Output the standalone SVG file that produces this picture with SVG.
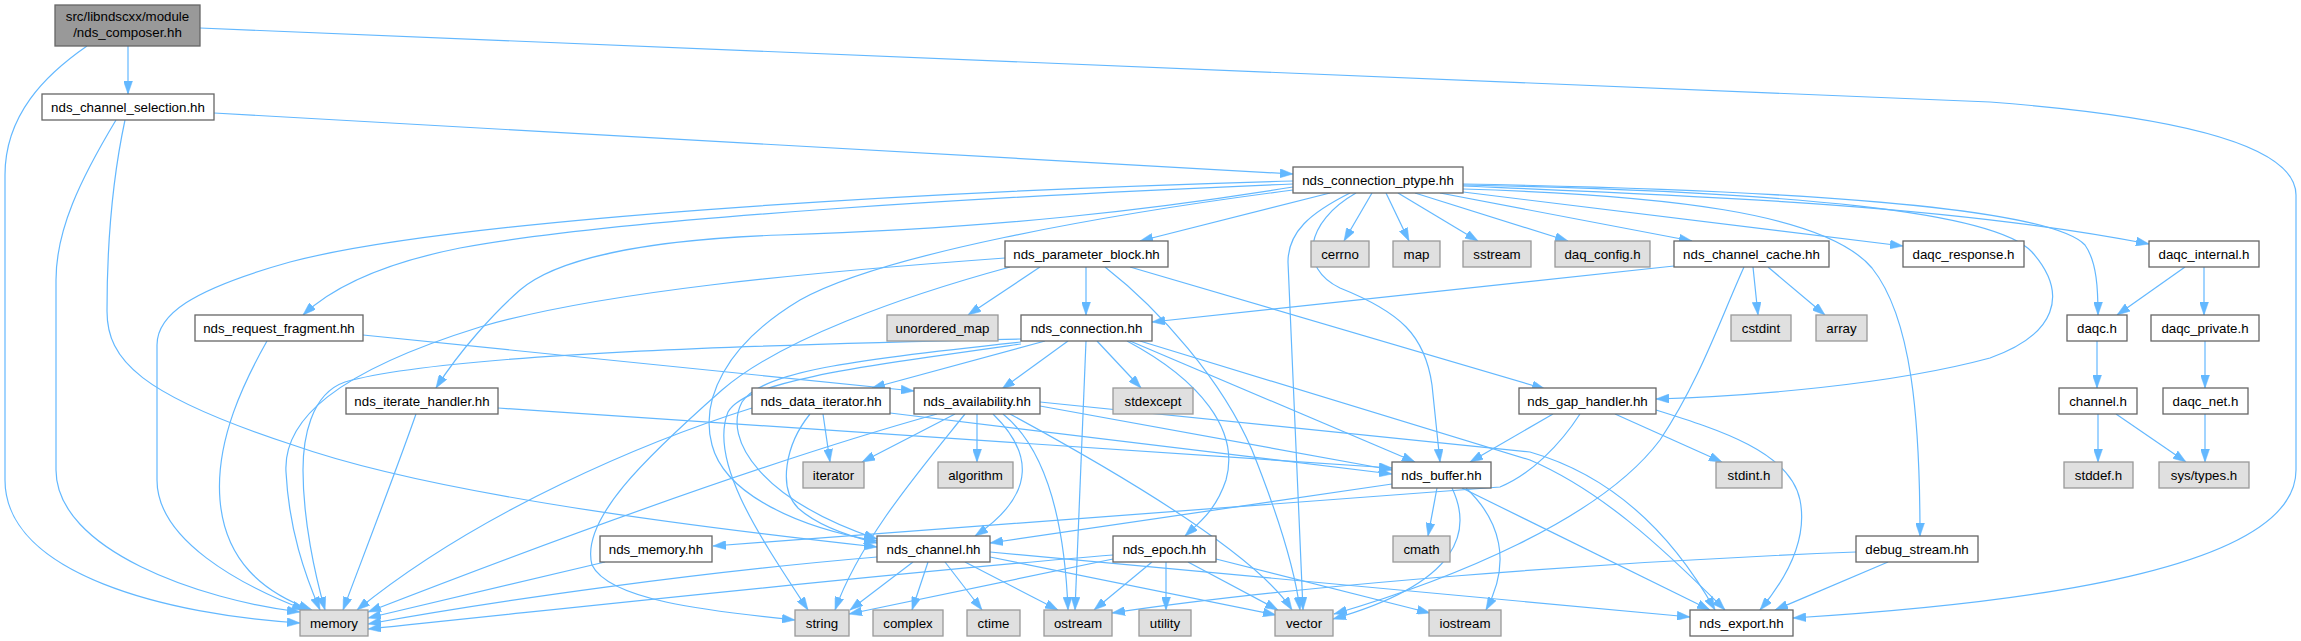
<svg xmlns="http://www.w3.org/2000/svg" width="2301" height="641" viewBox="0 0 2301 641">
<style>
rect{stroke-width:1.3}
.n rect{fill:#ffffff;stroke:#666666}
.x rect{fill:#e0e0e0;stroke:#999999}
.r rect{fill:#999999;stroke:#666666}
text{font-family:"Liberation Sans",Arial,Helvetica,sans-serif;font-size:13.3px;text-anchor:middle;fill:#000000}
#edges path{fill:none;stroke:#63b8ff;stroke-width:1.2;marker-end:url(#a)}
</style>
<defs>
<marker id="a" markerUnits="userSpaceOnUse" markerWidth="13" markerHeight="9" refX="13" refY="4.5" orient="auto">
<path d="M0,0 L13,4.5 L0,9 z" fill="#63b8ff" stroke="#63b8ff" stroke-width="0.5"/>
</marker>
</defs>
<rect x="0" y="0" width="2301" height="641" fill="#ffffff"/>
<g id="edges">
<path d="M128,46 L128,94"/>
<path d="M87,46 C45,75 5,115 5,175 L5,480 C5,575 170,615 300,623"/>
<path d="M200,28 L1990,102 C2200,118 2296,150 2296,195 L2296,470 C2296,565 2050,602 1793,618"/>
<path d="M214,113 L1293,174"/>
<path d="M116,120 C80,180 56,230 56,280 L56,470 C56,550 200,600 300,612"/>
<path d="M125,120 C110,190 107,260 107,311 C107,360 140,395 293,445 C420,490 650,522 877,547"/>
<path d="M1293,181 C900,192 450,220 290,262 C190,290 157,315 157,345 L157,480 C157,540 240,585 305,610"/>
<path d="M1293,184 C1000,196 620,218 460,248 C390,262 335,285 303,315"/>
<path d="M1293,187 C1150,210 1000,228 780,235 C640,240 555,260 520,290 C495,312 460,350 436,388"/>
<path d="M1293,190 C1100,215 880,255 800,300 C725,345 700,400 712,445 C725,495 800,528 877,541"/>
<path d="M1350,193 C1310,213 1288,232 1288,262 L1303,610"/>
<path d="M1356,193 C1305,222 1298,268 1340,288 C1400,312 1425,335 1432,385 L1440,462"/>
<path d="M1330,193 L1140,241"/>
<path d="M1372,193 L1344,241"/>
<path d="M1386,193 L1409,241"/>
<path d="M1398,193 L1478,241"/>
<path d="M1415,193 L1568,241"/>
<path d="M1440,193 L1692,241"/>
<path d="M1463,192 L1903,246"/>
<path d="M1463,186 C1700,196 1950,205 2149,244"/>
<path d="M1463,184 C1800,190 2050,208 2085,245 C2097,262 2098,290 2098,315"/>
<path d="M1463,185 C1800,192 1995,212 2032,252 C2070,295 2055,335 1990,358 C1890,385 1750,396 1656,399"/>
<path d="M1463,189 C1660,195 1825,212 1872,268 C1912,318 1920,420 1920,536"/>
<path d="M1005,258 C800,273 600,292 480,327 C335,372 283,420 286,472 C289,530 305,575 320,610"/>
<path d="M1040,267 L968,315"/>
<path d="M1086,267 L1086,315"/>
<path d="M1105,267 C1160,310 1222,380 1252,450 C1280,520 1295,570 1300,610"/>
<path d="M1130,267 L1545,389"/>
<path d="M1010,267 C900,297 780,340 722,390 C645,458 580,520 592,565 C610,602 720,612 795,620"/>
<path d="M1021,339 C800,344 450,352 345,382 C310,394 303,440 303,470 C303,520 315,575 325,610"/>
<path d="M1045,341 L872,388"/>
<path d="M1068,341 L1002,389"/>
<path d="M1097,341 L1141,388"/>
<path d="M1086,341 L1075,610"/>
<path d="M1127,341 C1200,380 1240,430 1226,480 C1216,510 1200,522 1185,536"/>
<path d="M1130,341 L1415,462"/>
<path d="M1140,341 L1530,460 C1600,490 1660,545 1725,610"/>
<path d="M1021,342 C850,360 762,372 742,402 C722,440 762,500 877,539"/>
<path d="M1021,344 C850,368 745,382 728,412 C708,462 762,540 808,610"/>
<path d="M752,408 C650,440 480,510 357,610"/>
<path d="M823,414 L830,462"/>
<path d="M810,414 C785,445 778,488 798,508 C818,526 848,536 877,543"/>
<path d="M890,413 L1392,474"/>
<path d="M937,414 C800,452 600,522 368,612"/>
<path d="M955,414 L862,462"/>
<path d="M977,414 L977,462"/>
<path d="M965,414 C920,470 860,540 835,610"/>
<path d="M993,414 C1030,450 1040,492 975,536"/>
<path d="M1003,414 C1050,452 1065,532 1068,610"/>
<path d="M1010,414 C1150,490 1260,560 1292,610"/>
<path d="M1040,406 L1392,470"/>
<path d="M1040,402 L1530,452 C1610,475 1670,530 1715,610"/>
<path d="M1553,414 L1470,462"/>
<path d="M1615,414 L1722,462"/>
<path d="M1656,410 C1720,430 1790,452 1800,500 C1808,540 1785,580 1760,610"/>
<path d="M1580,414 C1560,445 1530,475 1500,487 L713,546"/>
<path d="M1392,484 L990,543"/>
<path d="M1437,488 L1428,536"/>
<path d="M1452,488 C1472,530 1462,582 1333,619"/>
<path d="M1466,488 C1500,520 1512,562 1486,610"/>
<path d="M1462,488 L1710,610"/>
<path d="M877,557 C700,572 500,600 368,624"/>
<path d="M913,562 L850,610"/>
<path d="M928,562 L912,610"/>
<path d="M945,562 L982,610"/>
<path d="M965,562 L1058,610"/>
<path d="M990,557 L1276,615"/>
<path d="M990,552 L1690,617"/>
<path d="M1113,555 C900,572 600,605 368,629"/>
<path d="M1113,559 L849,614"/>
<path d="M1152,562 L1094,610"/>
<path d="M1166,562 L1166,610"/>
<path d="M1188,562 L1278,610"/>
<path d="M1216,559 L1430,613"/>
<path d="M605,562 L368,618"/>
<path d="M416,414 C400,460 380,512 343,610"/>
<path d="M498,408 L1392,468"/>
<path d="M267,341 C245,380 215,440 220,500 C225,560 262,592 312,610"/>
<path d="M363,335 L914,391"/>
<path d="M1674,266 L1152,322"/>
<path d="M1753,267 L1758,315"/>
<path d="M1768,267 L1825,315"/>
<path d="M1744,267 C1720,320 1700,380 1660,440 C1600,520 1450,580 1334,614"/>
<path d="M2185,267 L2117,315"/>
<path d="M2204,267 L2204,315"/>
<path d="M2097,341 L2097,388"/>
<path d="M2205,341 L2205,388"/>
<path d="M2098,414 L2098,462"/>
<path d="M2116,414 L2186,462"/>
<path d="M2205,414 L2205,462"/>
<path d="M1888,562 L1775,610"/>
<path d="M1856,552 C1600,562 1300,585 1112,613"/>
</g>
<g id="node_composer" class="r"><rect x="55" y="5" width="145" height="41"/><text x="127.5" y="21">src/libndscxx/module</text><text x="127.5" y="37">/nds_composer.hh</text></g>
<g id="node_channel_selection" class="n"><rect x="42" y="94" width="172" height="26"/><text x="128" y="111.7">nds_channel_selection.hh</text></g>
<g id="node_connection_ptype" class="n"><rect x="1293" y="167" width="170" height="26"/><text x="1378" y="184.7">nds_connection_ptype.hh</text></g>
<g id="node_parameter_block" class="n"><rect x="1005" y="241" width="163" height="26"/><text x="1086.5" y="258.7">nds_parameter_block.hh</text></g>
<g id="node_cerrno" class="x"><rect x="1311" y="241" width="58" height="26"/><text x="1340" y="258.7">cerrno</text></g>
<g id="node_map" class="x"><rect x="1393" y="241" width="47" height="26"/><text x="1416.5" y="258.7">map</text></g>
<g id="node_sstream" class="x"><rect x="1463" y="241" width="68" height="26"/><text x="1497" y="258.7">sstream</text></g>
<g id="node_daq_config" class="x"><rect x="1555" y="241" width="95" height="26"/><text x="1602.5" y="258.7">daq_config.h</text></g>
<g id="node_channel_cache" class="n"><rect x="1674" y="241" width="155" height="26"/><text x="1751.5" y="258.7">nds_channel_cache.hh</text></g>
<g id="node_daqc_response" class="n"><rect x="1903" y="241" width="121" height="26"/><text x="1963.5" y="258.7">daqc_response.h</text></g>
<g id="node_daqc_internal" class="n"><rect x="2149" y="241" width="110" height="26"/><text x="2204" y="258.7">daqc_internal.h</text></g>
<g id="node_request_fragment" class="n"><rect x="195" y="315" width="168" height="26"/><text x="279" y="332.7">nds_request_fragment.hh</text></g>
<g id="node_unordered_map" class="x"><rect x="887" y="315" width="111" height="26"/><text x="942.5" y="332.7">unordered_map</text></g>
<g id="node_connection" class="n"><rect x="1021" y="315" width="131" height="26"/><text x="1086.5" y="332.7">nds_connection.hh</text></g>
<g id="node_cstdint" class="x"><rect x="1731" y="315" width="60" height="26"/><text x="1761" y="332.7">cstdint</text></g>
<g id="node_array" class="x"><rect x="1816" y="315" width="51" height="26"/><text x="1841.5" y="332.7">array</text></g>
<g id="node_daqc" class="n"><rect x="2067" y="315" width="60" height="26"/><text x="2097" y="332.7">daqc.h</text></g>
<g id="node_daqc_private" class="n"><rect x="2151" y="315" width="108" height="26"/><text x="2205" y="332.7">daqc_private.h</text></g>
<g id="node_iterate_handler" class="n"><rect x="346" y="388" width="152" height="26"/><text x="422" y="405.7">nds_iterate_handler.hh</text></g>
<g id="node_data_iterator" class="n"><rect x="752" y="388" width="138" height="26"/><text x="821" y="405.7">nds_data_iterator.hh</text></g>
<g id="node_availability" class="n"><rect x="914" y="388" width="126" height="26"/><text x="977" y="405.7">nds_availability.hh</text></g>
<g id="node_stdexcept" class="x"><rect x="1113" y="388" width="80" height="26"/><text x="1153" y="405.7">stdexcept</text></g>
<g id="node_gap_handler" class="n"><rect x="1519" y="388" width="137" height="26"/><text x="1587.5" y="405.7">nds_gap_handler.hh</text></g>
<g id="node_channel_h" class="n"><rect x="2059" y="388" width="78" height="26"/><text x="2098" y="405.7">channel.h</text></g>
<g id="node_daqc_net" class="n"><rect x="2163" y="388" width="85" height="26"/><text x="2205.5" y="405.7">daqc_net.h</text></g>
<g id="node_iterator" class="x"><rect x="803" y="462" width="61" height="26"/><text x="833.5" y="479.7">iterator</text></g>
<g id="node_algorithm" class="x"><rect x="938" y="462" width="75" height="26"/><text x="975.5" y="479.7">algorithm</text></g>
<g id="node_buffer" class="n"><rect x="1392" y="462" width="99" height="26"/><text x="1441.5" y="479.7">nds_buffer.hh</text></g>
<g id="node_stdint" class="x"><rect x="1716" y="462" width="66" height="26"/><text x="1749" y="479.7">stdint.h</text></g>
<g id="node_stddef" class="x"><rect x="2064" y="462" width="69" height="26"/><text x="2098.5" y="479.7">stddef.h</text></g>
<g id="node_sys_types" class="x"><rect x="2159" y="462" width="90" height="26"/><text x="2204" y="479.7">sys/types.h</text></g>
<g id="node_nds_memory" class="n"><rect x="600" y="536" width="112" height="26"/><text x="656" y="553.7">nds_memory.hh</text></g>
<g id="node_channel" class="n"><rect x="877" y="536" width="113" height="26"/><text x="933.5" y="553.7">nds_channel.hh</text></g>
<g id="node_epoch" class="n"><rect x="1113" y="536" width="103" height="26"/><text x="1164.5" y="553.7">nds_epoch.hh</text></g>
<g id="node_cmath" class="x"><rect x="1393" y="536" width="57" height="26"/><text x="1421.5" y="553.7">cmath</text></g>
<g id="node_debug_stream" class="n"><rect x="1856" y="536" width="122" height="26"/><text x="1917" y="553.7">debug_stream.hh</text></g>
<g id="node_memory" class="x"><rect x="300" y="610" width="68" height="26"/><text x="334" y="627.7">memory</text></g>
<g id="node_string" class="x"><rect x="795" y="610" width="54" height="26"/><text x="822" y="627.7">string</text></g>
<g id="node_complex" class="x"><rect x="873" y="610" width="70" height="26"/><text x="908" y="627.7">complex</text></g>
<g id="node_ctime" class="x"><rect x="967" y="610" width="53" height="26"/><text x="993.5" y="627.7">ctime</text></g>
<g id="node_ostream" class="x"><rect x="1044" y="610" width="68" height="26"/><text x="1078" y="627.7">ostream</text></g>
<g id="node_utility" class="x"><rect x="1139" y="610" width="52" height="26"/><text x="1165" y="627.7">utility</text></g>
<g id="node_vector" class="x"><rect x="1275" y="610" width="58" height="26"/><text x="1304" y="627.7">vector</text></g>
<g id="node_iostream" class="x"><rect x="1429" y="610" width="72" height="26"/><text x="1465" y="627.7">iostream</text></g>
<g id="node_nds_export" class="n"><rect x="1690" y="610" width="103" height="26"/><text x="1741.5" y="627.7">nds_export.hh</text></g>
</svg>
